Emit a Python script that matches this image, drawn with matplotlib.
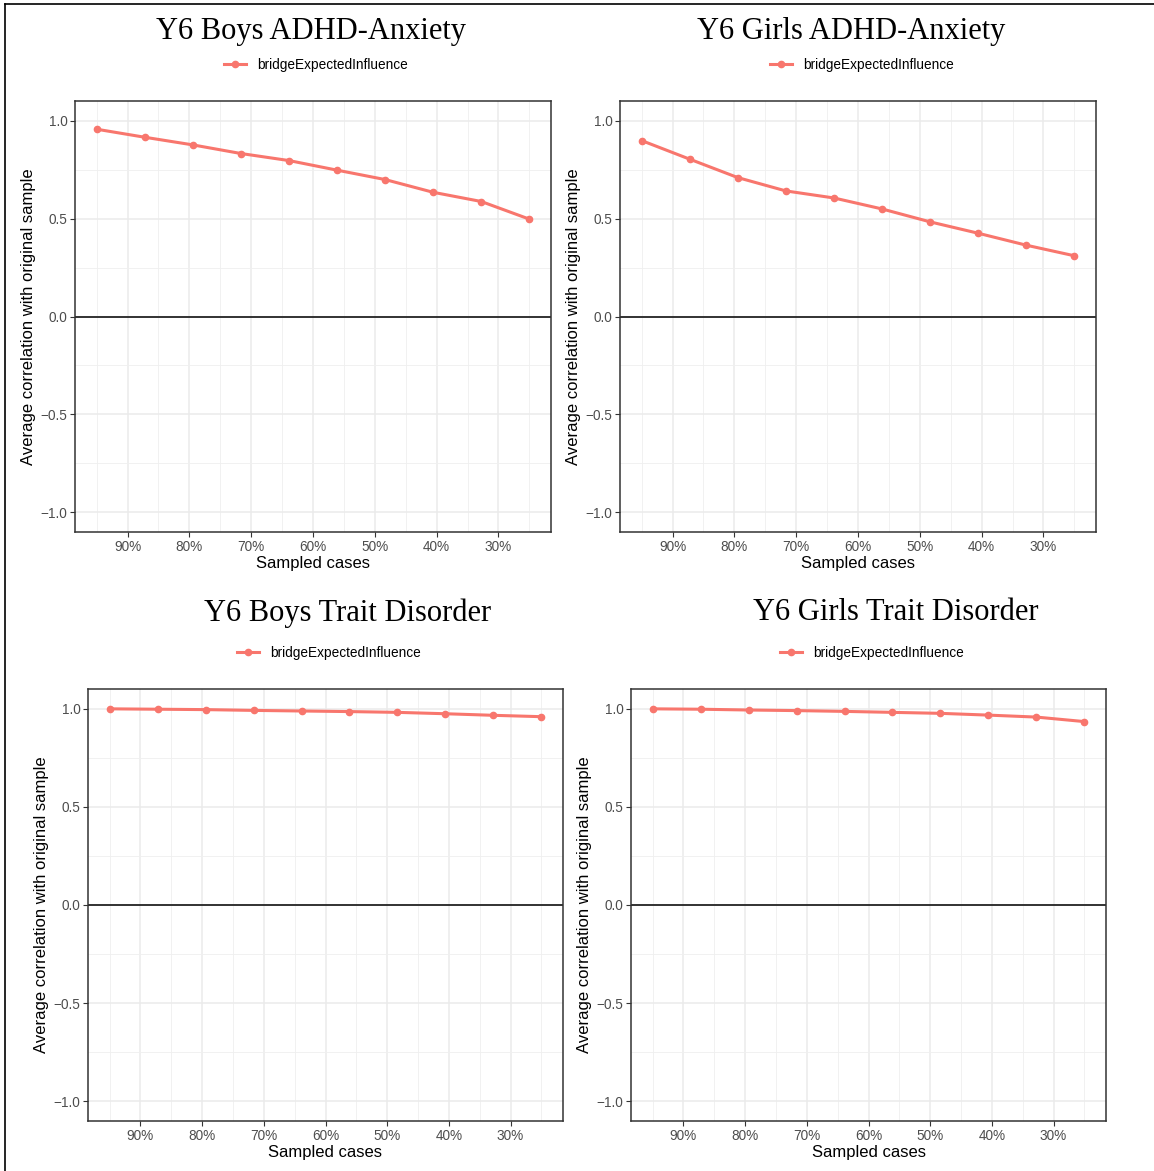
import matplotlib
matplotlib.use("Agg")
import matplotlib.pyplot as plt
from matplotlib.lines import Line2D

# proportion of cases kept in each subsample
sampled = [0.95, 0.8722, 0.7944, 0.7167, 0.6389, 0.5611, 0.4833, 0.4056, 0.3278, 0.25]

boys_adhd_anx = [0.956, 0.915, 0.876, 0.832, 0.796, 0.747, 0.699, 0.634, 0.587, 0.497]
girls_adhd_anx = [0.898, 0.803, 0.709, 0.641, 0.605, 0.549, 0.483, 0.425, 0.364, 0.310]
boys_trait = [0.999, 0.997, 0.995, 0.991, 0.988, 0.985, 0.981, 0.974, 0.966, 0.959]
girls_trait = [0.999, 0.997, 0.993, 0.990, 0.986, 0.981, 0.976, 0.967, 0.957, 0.934]

titles = ["Y6 Boys ADHD-Anxiety", "Y6 Girls ADHD-Anxiety",
          "Y6 Boys Trait Disorder", "Y6 Girls Trait Disorder"]
series = [boys_adhd_anx, girls_adhd_anx, boys_trait, girls_trait]
legend_label = "bridgeExpectedInfluence"

x_ticks = [0.9, 0.8, 0.7, 0.6, 0.5, 0.4, 0.3]
x_tick_labels = ["90%", "80%", "70%", "60%", "50%", "40%", "30%"]
x_minor = [0.95, 0.85, 0.75, 0.65, 0.55, 0.45, 0.35, 0.25]
y_ticks = [-1.0, -0.5, 0.0, 0.5, 1.0]
y_tick_labels = ["\u22121.0", "\u22120.5", "0.0", "0.5", "1.0"]
y_minor = [-0.75, -0.25, 0.25, 0.75]

W, H = 1154, 1171
LINE_COL = "#F8766D"

# panel boxes in pixels: left, top, right, bottom
boxes = [(75, 101, 551, 532), (620, 101, 1096, 532),
         (88, 689, 563, 1121), (631, 689, 1106, 1121)]
title_pos = [(311, 32), (851, 32), (348, 613), (896, 613)]
legend_pos = [(316, 65), (862, 65), (329, 653), (872, 653)]

plt.rcParams["font.family"] = ["Liberation Sans", "DejaVu Sans"]

fig = plt.figure(figsize=(W / 100, H / 100), dpi=100)
fig.patch.set_facecolor("white")

for i, (title, values) in enumerate(zip(titles, series)):
    l, t, r, b = boxes[i]
    ax = fig.add_axes([l / W, 1 - b / H, (r - l) / W, (b - t) / H])

    ax.set_xlim(0.985, 0.215)
    ax.set_ylim(-1.1, 1.1)
    ax.set_xticks(x_ticks)
    ax.set_xticklabels(x_tick_labels)
    ax.set_xticks(x_minor, minor=True)
    ax.set_yticks(y_ticks)
    ax.set_yticklabels(y_tick_labels)
    ax.set_yticks(y_minor, minor=True)

    ax.grid(which="major", color="#EBEBEB", linewidth=1.1)
    ax.grid(which="minor", color="#EFEFEF", linewidth=0.6)
    ax.set_axisbelow(True)

    ax.tick_params(which="major", length=3.5, width=0.8, color="#333333",
                   labelsize=9.8, labelcolor="#4D4D4D", pad=2)
    ax.tick_params(which="minor", length=0)
    for spine in ax.spines.values():
        spine.set_color("#333333")
        spine.set_linewidth(1.1)

    ax.axhline(0, color="black", linewidth=1.1, zorder=2)
    ax.plot(sampled, values, color=LINE_COL, linewidth=2.2, marker="o",
            markersize=4.5, zorder=3)

    ax.set_xlabel("Sampled cases", fontsize=12, color="black", labelpad=2)
    ax.set_ylabel("Average correlation with original sample", fontsize=12,
                  color="black", labelpad=3)

    tx, ty = title_pos[i]
    fig.text(tx / W, 1 - ty / H, title, ha="center", va="center",
             fontsize=22, family="Liberation Serif")

    lx, ly = legend_pos[i]
    handle = Line2D([], [], color=LINE_COL, linewidth=2.2, marker="o",
                    markersize=4.5)
    fig.legend([handle], [legend_label], loc="center",
               bbox_to_anchor=(lx / W, 1 - ly / H), frameon=False,
               fontsize=9.8, handlelength=1.6, handletextpad=0.8)

# frame lines along the top and left edge
fig.add_artist(Line2D([5 / W, 1], [1 - 4 / H, 1 - 4 / H], color="black",
                      linewidth=1.2))
fig.add_artist(Line2D([5 / W, 5 / W], [0, 1 - 4 / H], color="black",
                      linewidth=1.2))

fig.savefig("out.png", dpi=100)
